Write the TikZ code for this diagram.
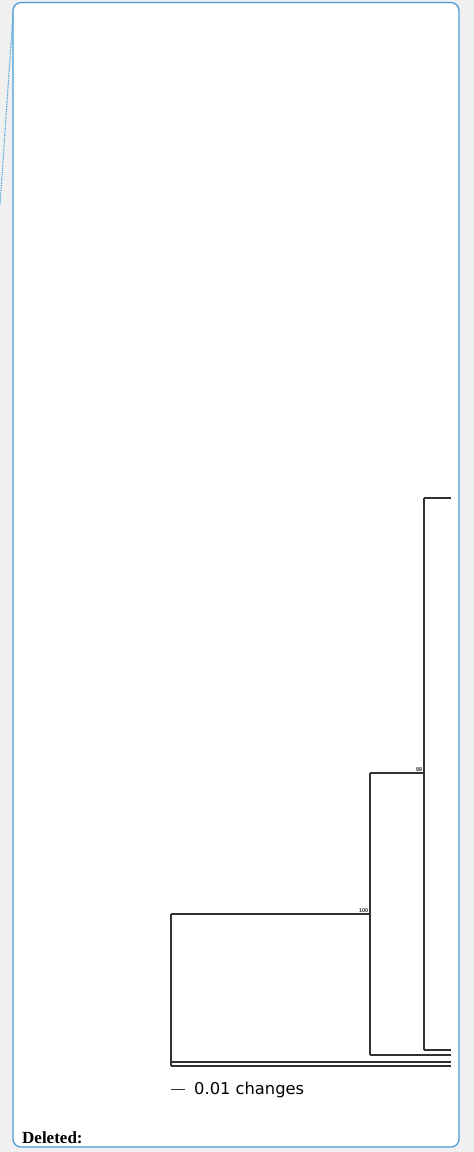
\documentclass[tikz,border=0pt]{standalone}
\usepackage{fontspec}
\setmainfont{Liberation Serif}
\newfontfamily\barfont{DejaVu Sans}
\newfontfamily\lblfont{Liberation Sans}
\definecolor{framec}{RGB}{74,158,216}
\definecolor{bgc}{RGB}{240,240,240}
\definecolor{treec}{RGB}{50,50,50}
\tikzset{
  branch/.style={draw=treec, line width=1.2pt},
  support/.style={font=\lblfont\bfseries\fontsize{5.5}{6}\selectfont, text=treec, inner sep=0.5pt, anchor=south east},
}
\begin{document}
\begin{tikzpicture}[x=1pt,y=-1pt]
\useasboundingbox (0,0) rectangle (474,1152);
\fill[bgc] (0,0) rectangle (474,1152);
\draw[framec, line width=1.3pt, fill=white, rounded corners=8pt] (13,2.5) rectangle (459,1147);
% dotted pointer line
\coordinate (pa) at (13,14);
\coordinate (pb) at (0,205);
\draw[framec, line width=1.1pt, dash pattern=on 1.2pt off 1pt] (pa) -- (pb);
% tree coordinates
\coordinate (root) at (171,914);
\coordinate (rootb) at (171,1066);
\coordinate (n100) at (370,773);
\coordinate (n100b) at (370,1055);
\coordinate (n88) at (424,498);
\coordinate (n88b) at (424,1050);
\coordinate (l1) at (451,498);
\coordinate (l2) at (451,1050);
\coordinate (l3) at (451,1055);
\coordinate (l4) at (451,1062);
\coordinate (l5) at (451,1066);
% verticals
\draw[branch] (root) -- (rootb);
\draw[branch] (n100) -- (n100b);
\draw[branch] (n88) -- (n88b);
% horizontals
\draw[branch] (root) -- (root -| n100);
\draw[branch] (n100) -- (n100 -| n88);
\draw[branch] (n88) -- (l1);
\draw[branch] (n88b) -- (l2);
\draw[branch] (n100b) -- (l3);
\draw[branch] (l4 -| root) -- (l4);
\draw[branch] (rootb) -- (l5);
% support labels
\node[support] (s88) at (423,772) {88};
\node[support] (s100) at (369,913) {100};
% scale bar
\coordinate (sa) at (171,1089);
\coordinate (sb) at (185,1089);
\draw[treec, line width=1pt] (sa) -- (sb);
\node[anchor=west, inner sep=0pt, font=\barfont\fontsize{16.3}{18}\selectfont, text=black] (scale) at (194,1089.5) {0.01 changes};
% deleted
\node[anchor=base west, inner sep=0pt, font=\bfseries\fontsize{17}{19}\selectfont] (del) at (22,1143) {Deleted:};
\end{tikzpicture}
\end{document}
